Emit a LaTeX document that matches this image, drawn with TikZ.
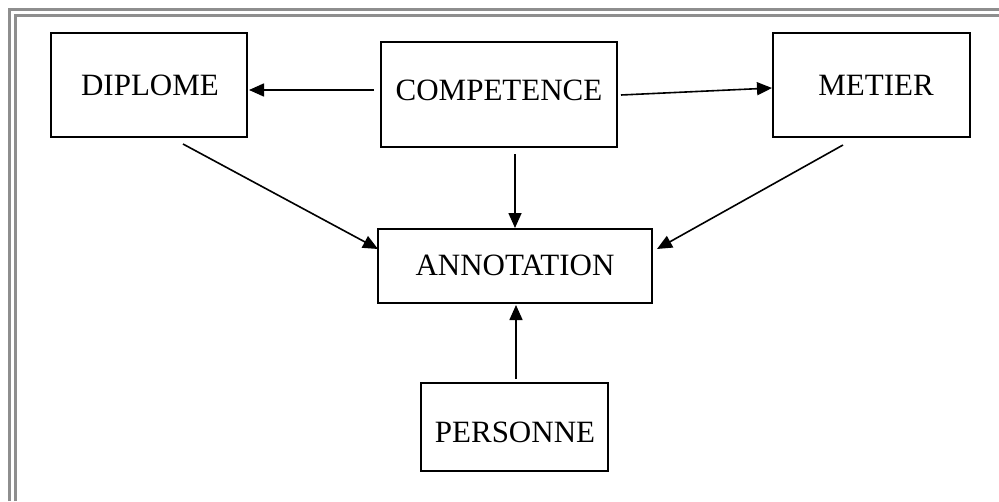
\documentclass[tikz,border=0pt]{standalone}
\usepackage{fontspec}
\setmainfont{Liberation Serif}
\usetikzlibrary{arrows.meta,calc}
\definecolor{framegray}{HTML}{8E8E8E}
\tikzset{
  box/.style={draw=black, line width=2pt, rectangle, inner sep=0pt, fill=white},
  lbl/.style={inner sep=0pt, font=\fontsize{31}{36}\selectfont},
  arr/.style={draw=black, line width=1.6pt, -{Triangle[length=15pt,width=13pt]}},
  frame/.style={draw=framegray, line width=2.4pt}
}
\begin{document}
\begin{tikzpicture}[x=1pt,y=-1pt]
  \useasboundingbox[fill=white] (0,0) rectangle (999,501);
  % double frame along the top and left
  \draw[frame] (9.5,501) -- (9.5,9.5) -- (999,9.5);
  \draw[frame] (15.5,501) -- (15.5,15.5) -- (999,15.5);

  % boxes
  \node[box, minimum width=196pt, minimum height=104pt] (dip)  at (149,85)    {};
  \node[box, minimum width=236pt, minimum height=105pt] (comp) at (499,94.5)  {};
  \node[box, minimum width=197pt, minimum height=104pt] (met)  at (871.5,85)  {};
  \node[box, minimum width=274pt, minimum height=74pt]  (ann)  at (515,266)   {};
  \node[box, minimum width=187pt, minimum height=88pt]  (pers) at (514.5,427) {};

  % labels
  \node[lbl] (dipT)  at (150,85)  {DIPLOME};
  \node[lbl] (compT) at (499,90)  {COMPETENCE};
  \node[lbl] (metT)  at (876,85)  {METIER};
  \node[lbl] (annT)  at (515,265) {ANNOTATION};
  \node[lbl] (persT) at (515,432) {PERSONNE};

  % connectors
  \draw[arr] ($(comp.west)+(-6,-4.5)$) -- ($(dip.east)+(1,5)$);
  \draw[arr] ($(comp.east)+(3,0.5)$) -- ($(met.west)+(0,3)$);
  \draw[arr] ($(ann.north |- comp.south)+(0,6)$) -- (ann.north);
  \draw[arr] ($(dip.south)+(34,6)$) -- ($(ann.west)+(1,-17)$);
  \draw[arr] ($(met.south)+(-28.5,7)$) -- ($(ann.east)+(4,-17)$);
  \draw[arr] ($(pers.north)+(1.5,-3)$) -- ($(ann.south)+(1,1)$);
\end{tikzpicture}
\end{document}
